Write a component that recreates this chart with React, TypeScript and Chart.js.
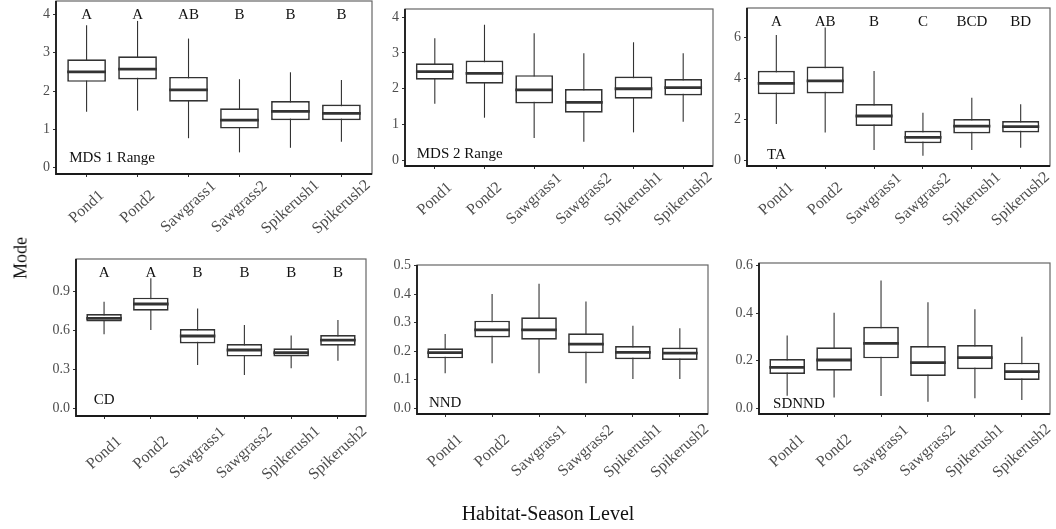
import React, { useEffect, useRef } from 'react';
import { Chart, registerables } from 'chart.js';

Chart.register(...registerables);

const categories = ['Pond1', 'Pond2', 'Sawgrass1', 'Sawgrass2', 'Spikerush1', 'Spikerush2'];

// Each row: [lower whisker, Q1, median, Q3, upper whisker]
const mds1Range = [
  [1.46, 2.24, 2.5, 2.83, 3.72],
  [1.49, 2.3, 2.57, 2.91, 3.83],
  [0.77, 1.72, 2.03, 2.37, 3.37],
  [0.4, 1.02, 1.24, 1.55, 2.31],
  [0.52, 1.24, 1.47, 1.74, 2.49],
  [0.68, 1.24, 1.42, 1.65, 2.29],
];
const mds2Range = [
  [1.58, 2.25, 2.48, 2.71, 3.41],
  [1.19, 2.14, 2.43, 2.79, 3.79],
  [0.62, 1.59, 1.97, 2.38, 3.55],
  [0.52, 1.33, 1.62, 1.99, 2.99],
  [0.78, 1.72, 2.0, 2.34, 3.3],
  [1.08, 1.81, 2.03, 2.27, 2.99],
];
const ta = [
  [1.79, 3.24, 3.77, 4.39, 6.13],
  [1.38, 3.28, 3.89, 4.59, 6.5],
  [0.52, 1.69, 2.18, 2.76, 4.37],
  [0.24, 0.85, 1.14, 1.46, 2.34],
  [0.52, 1.33, 1.69, 2.03, 3.07],
  [0.63, 1.38, 1.66, 1.93, 2.75],
];
const cd = [
  [0.571, 0.669, 0.694, 0.728, 0.823],
  [0.604, 0.753, 0.805, 0.854, 1.003],
  [0.334, 0.501, 0.558, 0.612, 0.771],
  [0.257, 0.399, 0.45, 0.496, 0.643],
  [0.309, 0.399, 0.429, 0.463, 0.561],
  [0.368, 0.483, 0.527, 0.566, 0.681],
];
const nnd = [
  [0.123, 0.175, 0.195, 0.21, 0.26],
  [0.158, 0.248, 0.275, 0.307, 0.4],
  [0.123, 0.24, 0.275, 0.319, 0.436],
  [0.088, 0.193, 0.225, 0.263, 0.374],
  [0.103, 0.172, 0.196, 0.218, 0.289],
  [0.103, 0.169, 0.193, 0.213, 0.28],
];
const sdnnd = [
  [0.053, 0.144, 0.172, 0.207, 0.306],
  [0.045, 0.158, 0.203, 0.257, 0.402],
  [0.052, 0.21, 0.273, 0.343, 0.537],
  [0.028, 0.136, 0.192, 0.262, 0.446],
  [0.042, 0.164, 0.213, 0.266, 0.416],
  [0.035, 0.119, 0.154, 0.192, 0.301],
];

// Significance groupings
const mds1Letters = ['A', 'A', 'AB', 'B', 'B', 'B'];
const taLetters = ['A', 'AB', 'B', 'C', 'BCD', 'BD'];
const cdLetters = ['A', 'A', 'B', 'B', 'B', 'B'];

// Y-axis tick values
const mdsTicks = [0, 1, 2, 3, 4];
const taTicks = [0, 2, 4, 6];
const cdTicks = [0, 0.3, 0.6, 0.9];
const nndTicks = [0, 0.1, 0.2, 0.3, 0.4, 0.5];
const sdnndTicks = [0, 0.2, 0.4, 0.6];

const SERIF = '"Liberation Serif", "DejaVu Serif", serif';
const INK = '#333333';
const TICK_TEXT = '#4d4d4d';

const Y_AXIS_W = 40;
const X_AXIS_H = 90;
const PAD_TOP = 10;
const PAD_RIGHT = 32;
const LABEL_ANGLE = (42 * Math.PI) / 180;

type PanelSpec = {
  title: string;
  stats: number[][];
  ticks: number[];
  decimals: number;
  yMin: number;
  yMax: number;
  letters?: string[];
  letterY?: number;
  titleX: number;
  titleY: number;
  labelDy: number;
  area: { l: number; t: number; r: number; b: number };
};

const panels: PanelSpec[] = [
  { title: 'MDS 1 Range', stats: mds1Range, ticks: mdsTicks, decimals: 0, yMin: -0.164, yMax: 4.35,
    letters: mds1Letters, letterY: 3.98, titleX: 0.5, titleY: 0.24, labelDy: 33, area: { l: 56, t: 1, r: 372, b: 174 } },
  { title: 'MDS 2 Range', stats: mds2Range, ticks: mdsTicks, decimals: 0, yMin: -0.16, yMax: 4.23,
    titleX: 0.5, titleY: 0.18, labelDy: 33, area: { l: 405, t: 9, r: 713, b: 166 } },
  { title: 'TA', stats: ta, ticks: taTicks, decimals: 0, yMin: -0.26, yMax: 7.45,
    letters: taLetters, letterY: 6.78, titleX: 0, titleY: 0.28, labelDy: 33, area: { l: 747, t: 8, r: 1050, b: 166 } },
  { title: 'CD', stats: cd, ticks: cdTicks, decimals: 1, yMin: -0.059, yMax: 1.152,
    letters: cdLetters, letterY: 1.04, titleX: 0, titleY: 0.064, labelDy: 37, area: { l: 76, t: 259, r: 366, b: 416 } },
  { title: 'NND', stats: nnd, ticks: nndTicks, decimals: 1, yMin: -0.02, yMax: 0.502,
    titleX: 0, titleY: 0.0175, labelDy: 37, area: { l: 417, t: 265, r: 708, b: 414 } },
  { title: 'SDNND', stats: sdnnd, ticks: sdnndTicks, decimals: 1, yMin: -0.024, yMax: 0.611,
    titleX: 0.25, titleY: 0.018, labelDy: 37, area: { l: 759, t: 263, r: 1050, b: 414 } },
];

function BoxPanel({ spec }: { spec: PanelSpec }) {
  const ref = useRef<HTMLCanvasElement | null>(null);
  const { area } = spec;
  const width = area.r - area.l + Y_AXIS_W + PAD_RIGHT;
  const height = area.b - area.t + PAD_TOP + X_AXIS_H;

  useEffect(() => {
    if (!ref.current) return;

    const boxPlot = {
      id: 'boxPlot',
      beforeDatasetsDraw(chart: any) {
        const { ctx } = chart;
        const y = chart.scales.y;
        const meta = chart.getDatasetMeta(0);
        ctx.save();
        ctx.strokeStyle = INK;
        ctx.lineWidth = 1.1;
        spec.stats.forEach((s, i) => {
          const el = meta.data[i];
          ctx.beginPath();
          ctx.moveTo(el.x, y.getPixelForValue(s[0]));
          ctx.lineTo(el.x, y.getPixelForValue(s[4]));
          ctx.stroke();
        });
        ctx.restore();
      },
      afterDatasetsDraw(chart: any) {
        const { ctx, chartArea } = chart;
        const x = chart.scales.x;
        const y = chart.scales.y;
        const meta = chart.getDatasetMeta(0);
        ctx.save();
        // medians
        ctx.strokeStyle = INK;
        ctx.lineWidth = 2.8;
        spec.stats.forEach((s, i) => {
          const el = meta.data[i];
          const py = y.getPixelForValue(s[2]);
          ctx.beginPath();
          ctx.moveTo(el.x - el.width / 2, py);
          ctx.lineTo(el.x + el.width / 2, py);
          ctx.stroke();
        });
        // group letters
        ctx.fillStyle = '#111';
        ctx.font = `15px ${SERIF}`;
        ctx.textAlign = 'center';
        ctx.textBaseline = 'middle';
        if (spec.letters && spec.letterY !== undefined) {
          spec.letters.forEach((t, i) => {
            ctx.fillText(t, x.getPixelForValue(i), y.getPixelForValue(spec.letterY));
          });
        }
        // panel label
        ctx.fillText(spec.title, x.getPixelForValue(spec.titleX), y.getPixelForValue(spec.titleY));
        // frame
        ctx.strokeStyle = '#666';
        ctx.lineWidth = 1.2;
        ctx.strokeRect(chartArea.left, chartArea.top, chartArea.right - chartArea.left, chartArea.bottom - chartArea.top);
        ctx.strokeStyle = '#1a1a1a';
        ctx.lineWidth = 1.8;
        ctx.beginPath();
        ctx.moveTo(chartArea.left, chartArea.top);
        ctx.lineTo(chartArea.left, chartArea.bottom);
        ctx.lineTo(chartArea.right, chartArea.bottom);
        ctx.stroke();
        ctx.restore();
      },
      afterDraw(chart: any) {
        // category labels, rotated and centred under each tick
        const { ctx, chartArea } = chart;
        const x = chart.scales.x;
        ctx.save();
        ctx.fillStyle = TICK_TEXT;
        ctx.font = `16px ${SERIF}`;
        ctx.textAlign = 'center';
        ctx.textBaseline = 'middle';
        categories.forEach((c, i) => {
          ctx.save();
          ctx.translate(x.getPixelForValue(i), chartArea.bottom + spec.labelDy);
          ctx.rotate(-LABEL_ANGLE);
          ctx.fillText(c, 0, 0);
          ctx.restore();
        });
        ctx.restore();
      },
    };

    const chart = new Chart(ref.current, {
      type: 'bar',
      data: {
        datasets: [
          {
            data: spec.stats.map((s, i) => ({ x: i, y: [s[1], s[3]] })) as any,
            backgroundColor: '#ffffff',
            borderColor: INK,
            borderWidth: 1.7,
            borderSkipped: false,
            categoryPercentage: 1,
            barPercentage: 0.76,
          },
        ],
      },
      options: {
        responsive: false,
        animation: false,
        devicePixelRatio: 1,
        layout: { padding: { top: PAD_TOP, right: PAD_RIGHT, left: 0, bottom: 0 } },
        plugins: { legend: { display: false }, tooltip: { enabled: false } },
        scales: {
          x: {
            type: 'linear',
            min: -0.6,
            max: 5.6,
            offset: false,
            afterBuildTicks: (s: any) => {
              s.ticks = categories.map((_, i) => ({ value: i }));
            },
            afterFit: (s: any) => {
              s.height = X_AXIS_H;
              s.paddingLeft = 0;
              s.paddingRight = 0;
            },
            grid: { display: true, offset: false, drawOnChartArea: false, drawTicks: true, tickLength: 3, color: INK, lineWidth: 1 },
            border: { display: false },
            ticks: { display: false, autoSkip: false },
          },
          y: {
            type: 'linear',
            min: spec.yMin,
            max: spec.yMax,
            afterBuildTicks: (s: any) => {
              s.ticks = spec.ticks.map((v) => ({ value: v }));
            },
            afterFit: (s: any) => {
              s.width = Y_AXIS_W;
              s.paddingTop = 0;
              s.paddingBottom = 0;
            },
            grid: { display: true, drawOnChartArea: false, drawTicks: true, tickLength: 3, color: INK, lineWidth: 1 },
            border: { display: false },
            ticks: {
              padding: 3,
              color: TICK_TEXT,
              font: { family: SERIF, size: 14 },
              callback: (v: any) => Number(v).toFixed(spec.decimals),
            },
          },
        },
      } as any,
      plugins: [boxPlot],
    });

    return () => chart.destroy();
  }, [spec]);

  return (
    <canvas
      ref={ref}
      width={width}
      height={height}
      style={{
        position: 'absolute',
        left: area.l - Y_AXIS_W,
        top: area.t - PAD_TOP,
        width,
        height,
      }}
    />
  );
}

export default function App() {
  return (
    <div
      style={{
        position: 'absolute',
        left: 0,
        top: 0,
        width: 1056,
        height: 529,
        overflow: 'hidden',
        background: '#ffffff',
        fontFamily: SERIF,
      }}
    >
      {panels.map((p) => (
        <BoxPanel key={p.title} spec={p} />
      ))}
      <div
        style={{
          position: 'absolute',
          left: 21,
          top: 258,
          transform: 'translate(-50%, -50%) rotate(-90deg)',
          fontSize: 18,
          color: '#111',
          whiteSpace: 'nowrap',
        }}
      >
        Mode
      </div>
      <div
        style={{
          position: 'absolute',
          left: 548,
          top: 513,
          transform: 'translate(-50%, -50%)',
          fontSize: 20,
          color: '#111',
          whiteSpace: 'nowrap',
        }}
      >
        Habitat-Season Level
      </div>
    </div>
  );
}
